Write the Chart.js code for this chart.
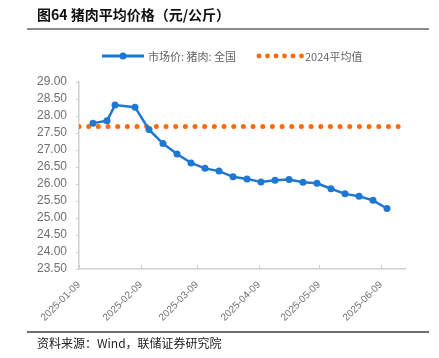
<!DOCTYPE html>
<html>
<head>
<meta charset="utf-8">
<script src="https://cdn.jsdelivr.net/npm/chart.js@4.4.1/dist/chart.umd.min.js"></script>
<style>
  html,body{margin:0;padding:0;background:#fff;}
  #wrap{position:relative;width:439px;height:358px;overflow:hidden;font-family:"Noto Sans CJK SC","Liberation Sans",sans-serif;}
  #title{position:absolute;left:37px;top:5px;font-size:14px;font-weight:bold;color:#111;line-height:18px;white-space:nowrap;}
  #topline{position:absolute;left:27px;top:28px;width:402px;height:2px;background:#8c8c8c;}
  #botline{position:absolute;left:27px;top:331px;width:402px;height:2px;background:#6e6e6e;}
  #source{position:absolute;left:37px;top:334px;font-size:12px;color:#222;line-height:17px;white-space:nowrap;}
  #legend{position:absolute;top:48px;left:0;width:439px;height:16px;font-size:11px;color:#666;}
  .lg{position:absolute;top:0;height:16px;line-height:16px;white-space:nowrap;}
  canvas{position:absolute;left:0;top:0;}
</style>
</head>
<body>
<div id="wrap">
  <canvas id="c" width="439" height="358"></canvas>
  <div id="title">图64 猪肉平均价格（元/公斤）</div>
  <div id="topline"></div>
  <div id="legend">
    <svg class="lg" style="left:101px" width="44" height="16"><line x1="1" y1="8" x2="43" y2="8" stroke="#1F77D4" stroke-width="3"/><circle cx="22" cy="8" r="3.5" fill="#1F77D4"/></svg>
    <span class="lg" id="lg1" style="left:148px"></span>
    <svg class="lg" style="left:256px" width="48" height="16"><g fill="#FF6A0A"><circle cx="3" cy="8" r="2.4"/><circle cx="11.5" cy="8" r="2.4"/><circle cx="20" cy="8" r="2.4"/><circle cx="28.5" cy="8" r="2.4"/><circle cx="37" cy="8" r="2.4"/><circle cx="45.5" cy="8" r="2.4"/></g></svg>
    <span class="lg" id="lg2" style="left:305px"></span>
  </div>
  <div id="botline"></div>
  <div id="source">资料来源：Wind，联储证券研究院</div>
</div>
<script>
// ---- data ----
const seriesNames = ["市场价: 猪肉: 全国", "2024平均值"];
const priceDates = ["2025-01-16","2025-01-23","2025-01-27","2025-02-06","2025-02-13","2025-02-20","2025-02-27","2025-03-06","2025-03-13","2025-03-20","2025-03-27","2025-04-03","2025-04-10","2025-04-17","2025-04-24","2025-05-01","2025-05-08","2025-05-15","2025-05-22","2025-05-29","2025-06-05","2025-06-12"];
const priceValues = [27.79,27.86,28.32,28.26,27.60,27.19,26.88,26.62,26.46,26.38,26.21,26.15,26.06,26.11,26.13,26.05,26.02,25.86,25.71,25.64,25.52,25.28];
const avgDates = ["2025-01-09","2025-06-18"];
const avg2024 = 27.69;
const xTickLabels = ["2025-01-09","2025-02-09","2025-03-09","2025-04-09","2025-05-09","2025-06-09"];
const xRange = ["2025-01-09","2025-06-21"];
const yTickValues = [23.5,24,24.5,25,25.5,26,26.5,27,27.5,28,28.5,29];

document.getElementById('lg1').textContent = seriesNames[0];
document.getElementById('lg2').textContent = seriesNames[1];

const DAY = 86400000;
const base = Date.parse(xRange[0]);
const toDay = s => Math.round((Date.parse(s) - base) / DAY);
const dayToLabel = d => new Date(base + d * DAY).toISOString().slice(0,10);

const priceData = priceDates.map((d,i) => ({x: toDay(d), y: priceValues[i]}));
const avgData = avgDates.map(d => ({x: toDay(d), y: avg2024}));
const xTicks = xTickLabels.map(toDay);

const innerTicks = {
  id: 'innerTicks',
  afterDraw(chart) {
    const xs = chart.scales.x, ctx = chart.ctx;
    const y = chart.chartArea.bottom;
    ctx.save();
    ctx.strokeStyle = '#d0d0d0';
    ctx.lineWidth = 1;
    xTicks.forEach(v => {
      const px = Math.round(xs.getPixelForValue(v)) + 0.5;
      ctx.beginPath(); ctx.moveTo(px, y); ctx.lineTo(px, y - 4); ctx.stroke();
    });
    ctx.restore();
  }
};

new Chart(document.getElementById('c'), {
  type: 'line',
  data: {
    datasets: [
      {
        label: seriesNames[0],
        data: priceData,
        borderColor: '#1F77D4',
        backgroundColor: '#1F77D4',
        borderWidth: 2.5,
        pointRadius: 3.5,
        pointHoverRadius: 3.5,
        pointBorderWidth: 0,
        tension: 0,
        order: 1
      },
      {
        label: seriesNames[1],
        data: avgData,
        borderColor: '#FF6A0A',
        borderWidth: 5,
        borderDash: [0, 9.67],
        borderCapStyle: 'round',
        pointRadius: 0,
        tension: 0,
        order: 2
      }
    ]
  },
  options: {
    responsive: false,
    animation: false,
    events: [],
    layout: { padding: { left: 0, right: 34, top: 82, bottom: 0 } },
    plugins: { legend: { display: false }, tooltip: { enabled: false } },
    scales: {
      x: {
        type: 'linear',
        min: 0,
        max: toDay(xRange[1]),
        afterBuildTicks(scale) { scale.ticks = xTicks.map(v => ({value: v})); },
        afterFit(scale) { scale.height = 89; },
        ticks: {
          autoSkip: false,
          maxRotation: 45,
          minRotation: 45,
          padding: 2,
          color: '#707070',
          font: { family: 'Liberation Sans', size: 10 },
          callback: v => dayToLabel(v)
        },
        grid: { display: false },
        border: { display: true, color: '#d0d0d0', width: 1.5 }
      },
      y: {
        min: 23.5,
        max: 29,
        afterBuildTicks(scale) { scale.ticks = yTickValues.map(v => ({value: v})); },
        afterFit(scale) { scale.width = 79; },
        ticks: {
          autoSkip: false,
          padding: 9,
          color: '#707070',
          font: { family: 'Liberation Sans', size: 12 },
          callback: v => Number(v).toFixed(2)
        },
        grid: { drawOnChartArea: false, drawTicks: true, tickLength: 3, color: '#d0d0d0' },
        border: { display: true, color: '#d0d0d0', width: 1.5 }
      }
    }
  },
  plugins: [innerTicks]
});
</script>
</body>
</html>
